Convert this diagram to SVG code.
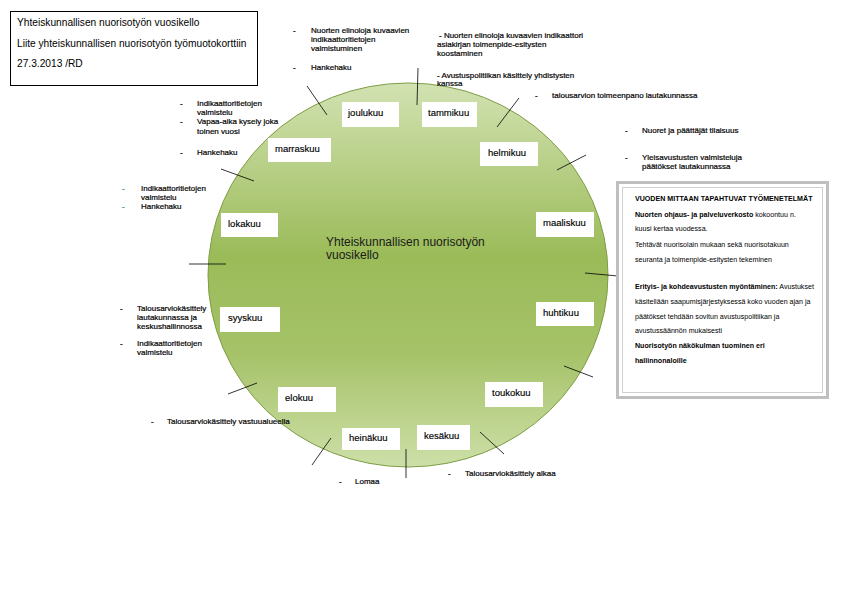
<svg xmlns="http://www.w3.org/2000/svg" width="842" height="595" viewBox="0 0 842 595">
<defs>
<linearGradient id="g" x1="0" y1="0" x2="0" y2="1">
<stop offset="0" stop-color="#d2e2b2"/>
<stop offset="0.45" stop-color="#9bbb59"/>
<stop offset="0.7" stop-color="#a5c268"/>
<stop offset="1" stop-color="#cddfa8"/>
</linearGradient>
</defs>
<style>
text{font-family:"Liberation Sans",Arial,sans-serif;fill:#000}
.s{font-size:8px;stroke:#000;stroke-width:0.2}
.m{font-size:9.5px;stroke:#000;stroke-width:0.15}
.h{font-size:10.2px}
.b{font-size:7.1px}
.bb{font-weight:bold}
.mb{fill:#fff}
.c line{stroke:#000;stroke-width:0.8}
.t{fill:#3d7f80;stroke:#3d7f80}
</style>
<rect width="842" height="595" fill="#fff"/>
<g id="header">
<rect x="10.5" y="11.5" width="247" height="74" fill="#fff" stroke="#000" stroke-width="1"/>
<text class="h" x="17" y="26">Yhteiskunnallisen nuorisotyön vuosikello</text>
<text class="h" x="17" y="47">Liite yhteiskunnallisen nuorisotyön työmuotokorttiin</text>
<text class="h" x="17" y="67">27.3.2013 /RD</text>
</g>
<g id="wheel">
<ellipse cx="408" cy="275" rx="200" ry="192" fill="url(#g)" stroke="#7f9d45" stroke-width="1"/>
<text x="326" y="246" font-size="12" style="fill:#1a1a1a">Yhteiskunnallisen nuorisotyön</text>
<text x="326" y="259" font-size="12" style="fill:#1a1a1a">vuosikello</text>
</g>
<g id="months">
<g id="m-joulukuu"><rect class="mb" x="342" y="102" width="57" height="25"/><text class="m" x="348" y="116">joulukuu</text></g>
<g id="m-tammikuu"><rect class="mb" x="422" y="102" width="55" height="25"/><text class="m" x="428" y="116">tammikuu</text></g>
<g id="m-helmikuu"><rect class="mb" x="480" y="142" width="58" height="24"/><text class="m" x="488" y="156">helmikuu</text></g>
<g id="m-maaliskuu"><rect class="mb" x="536" y="212" width="58" height="25"/><text class="m" x="543" y="226">maaliskuu</text></g>
<g id="m-huhtikuu"><rect class="mb" x="536" y="302" width="58" height="24"/><text class="m" x="543" y="316">huhtikuu</text></g>
<g id="m-toukokuu"><rect class="mb" x="485" y="382" width="58" height="25"/><text class="m" x="492" y="396">toukokuu</text></g>
<g id="m-kesakuu"><rect class="mb" x="417" y="425" width="53" height="25"/><text class="m" x="424" y="439">kesäkuu</text></g>
<g id="m-heinakuu"><rect class="mb" x="342" y="428" width="58" height="22"/><text class="m" x="349" y="441">heinäkuu</text></g>
<g id="m-elokuu"><rect class="mb" x="278" y="387" width="58" height="25"/><text class="m" x="285" y="401">elokuu</text></g>
<g id="m-syyskuu"><rect class="mb" x="220" y="307" width="60" height="25"/><text class="m" x="228" y="321">syyskuu</text></g>
<g id="m-lokakuu"><rect class="mb" x="221" y="213" width="57" height="24"/><text class="m" x="228" y="227">lokakuu</text></g>
<g id="m-marraskuu"><rect class="mb" x="268" y="138" width="63" height="24"/><text class="m" x="275" y="152">marraskuu</text></g>
</g>
<g id="connectors" class="c">
<line x1="307" y1="86" x2="327" y2="115"/>
<line x1="418" y1="68" x2="417" y2="105"/>
<line x1="519" y1="98" x2="497" y2="127"/>
<line x1="586" y1="155" x2="557" y2="170"/>
<line x1="585" y1="273" x2="618" y2="276"/>
<line x1="564" y1="366" x2="593" y2="377"/>
<line x1="480" y1="432" x2="504" y2="454"/>
<line x1="406" y1="449" x2="406" y2="478"/>
<line x1="331" y1="438" x2="312" y2="465"/>
<line x1="257" y1="383" x2="228" y2="394"/>
<line x1="189" y1="264" x2="226" y2="264"/>
<line x1="221" y1="169" x2="254" y2="181"/>
</g>
<g id="notes">
<g id="n-dec">
<text class="s" x="293" y="33">-</text>
<text class="s" x="311" y="33">Nuorten elinoloja kuvaavien</text>
<text class="s" x="311" y="42">indikaattoritietojen</text>
<text class="s" x="311" y="51">valmistuminen</text>
<text class="s" x="293" y="70">-</text>
<text class="s" x="311" y="70">Hankehaku</text>
</g>
<g id="n-jan">
<text class="s" x="439" y="38"> - Nuorten elinoloja kuvaavien indikaattori</text>
<text class="s" x="437" y="47">asiakirjan toimenpide-esitysten</text>
<text class="s" x="437" y="56">koostaminen</text>
<text class="s" x="437" y="78">- Avustuspolitiikan käsittely yhdistysten</text>
<text class="s" x="437" y="86">kanssa</text>
<text class="s" x="535" y="98">-</text>
<text class="s" x="552" y="98">talousarvion toimeenpano lautakunnassa</text>
</g>
<g id="n-feb">
<text class="s" x="625" y="133">-</text>
<text class="s" x="642" y="133">Nuoret ja päättäjät tilaisuus</text>
<text class="s" x="625" y="160">-</text>
<text class="s" x="642" y="160">Yleisavustusten valmisteluja</text>
<text class="s" x="642" y="169">päätökset lautakunnassa</text>
</g>
<g id="n-nov">
<text class="s" x="180" y="106">-</text>
<text class="s" x="197" y="106">Indikaattoritietojen</text>
<text class="s" x="197" y="115">valmistelu</text>
<text class="s" x="180" y="124">-</text>
<text class="s" x="197" y="124">Vapaa-aika kysely joka</text>
<text class="s" x="197" y="134">toinen vuosi</text>
<text class="s" x="180" y="155">-</text>
<text class="s" x="197" y="155">Hankehaku</text>
</g>
<g id="n-oct">
<text class="s t" x="122" y="191">-</text>
<text class="s" x="141" y="191">Indikaattoritietojen</text>
<text class="s" x="141" y="200">valmistelu</text>
<text class="s t" x="122" y="209">-</text>
<text class="s" x="141" y="209">Hankehaku</text>
</g>
<g id="n-sep">
<text class="s" x="120" y="311">-</text>
<text class="s" x="137" y="311">Talousarviokäsittely</text>
<text class="s" x="137" y="320">lautakunnassa ja</text>
<text class="s" x="137" y="329">keskushallinnossa</text>
<text class="s" x="120" y="346">-</text>
<text class="s" x="137" y="346">Indikaattoritietojen</text>
<text class="s" x="137" y="355">valmistelu</text>
</g>
<g id="n-aug">
<text class="s" x="151" y="424">-</text>
<text class="s" x="167" y="424">Talousarviokäsittely vastuualueella</text>
</g>
<g id="n-jul">
<text class="s" x="339" y="484">-</text>
<text class="s" x="355" y="484">Lomaa</text>
</g>
<g id="n-jun">
<text class="s" x="448" y="476">-</text>
<text class="s" x="465" y="476">Talousarviokäsittely alkaa</text>
</g>
</g>
<g id="methods">
<rect x="617.5" y="182.5" width="210" height="215" fill="#fff" stroke="#bfbfbf" stroke-width="3"/>
<rect x="622.5" y="187.5" width="200" height="205" fill="none" stroke="#cfcfcf" stroke-width="1"/>
<text class="b bb" x="635" y="201">VUODEN MITTAAN TAPAHTUVAT TYÖMENETELMÄT</text>
<text class="b" x="635" y="217"><tspan class="bb">Nuorten ohjaus- ja palveluverkosto</tspan> kokoontuu n.</text>
<text class="b" x="635" y="231">kuusi kertaa vuodessa.</text>
<text class="b" x="635" y="247">Tehtävät nuorisolain mukaan sekä nuorisotakuun</text>
<text class="b" x="635" y="262">seuranta ja toimenpide-esitysten tekeminen</text>
<text class="b" x="635" y="289"><tspan class="bb">Erityis- ja kohdeavustusten myöntäminen:</tspan> Avustukset</text>
<text class="b" x="635" y="304">käsitellään saapumisjärjestyksessä koko vuoden ajan ja</text>
<text class="b" x="635" y="319">päätökset tehdään sovitun avustuspolitiikan ja</text>
<text class="b" x="635" y="333">avustussäännön mukaisesti</text>
<text class="b bb" x="635" y="348">Nuorisotyön näkökulman tuominen eri</text>
<text class="b bb" x="635" y="363">hallinnonaloille</text>
</g>
</svg>
